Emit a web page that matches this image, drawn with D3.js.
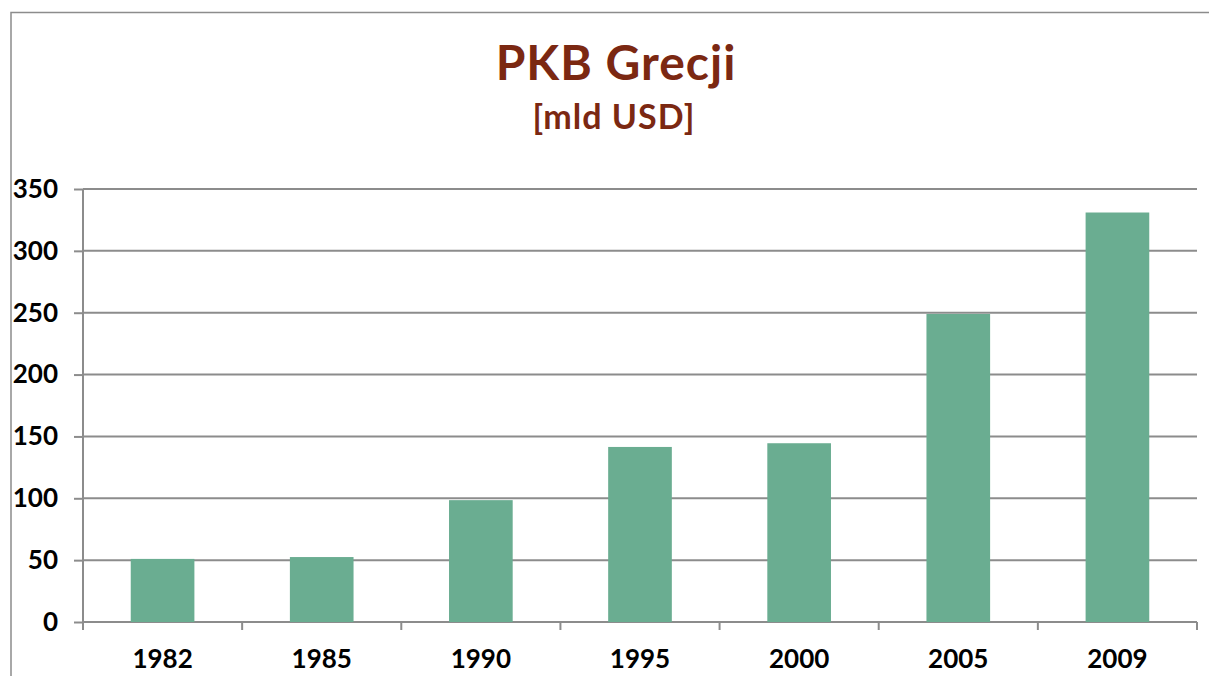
<!DOCTYPE html>
<html>
<head>
<meta charset="utf-8">
<script src="https://cdn.jsdelivr.net/npm/d3@7"></script>
<style>
  body { margin: 0; background: #fff; }
  text { font-family: Lato, "DejaVu Sans", sans-serif; font-weight: bold; }
</style>
</head>
<body>
<div id="chart"></div>
<script>
// chart data
const years = ["1982", "1985", "1990", "1995", "2000", "2005", "2009"];
const gdp = [51, 52.5, 98.5, 141.5, 144.5, 249, 331];
const yTicks = [0, 50, 100, 150, 200, 250, 300, 350];

const W = 1209, H = 676;
const margin = {top: 189, right: 12, bottom: 54, left: 83};
const width = W - margin.left - margin.right;
const height = H - margin.top - margin.bottom;

const svg = d3.select('#chart').append('svg')
    .attr('width', W)
    .attr('height', H);

// outer frame
svg.append('rect')
    .attr('x', 11).attr('y', 12.5)
    .attr('width', W).attr('height', H)
    .attr('fill', 'none')
    .attr('stroke', '#8c8c8c')
    .attr('stroke-width', 1.5);

// titles
svg.append('text')
    .attr('x', 616).attr('y', 80)
    .attr('text-anchor', 'middle')
    .attr('fill', '#7b2812')
    .style('font-size', '48px')
    .style('letter-spacing', '1px')
    .text('PKB Grecji');
svg.append('text')
    .attr('x', 614).attr('y', 129)
    .attr('text-anchor', 'middle')
    .attr('fill', '#7b2812')
    .style('font-size', '34px')
    .style('letter-spacing', '1px')
    .text('[mld USD]');

const g = svg.append('g')
    .attr('transform', 'translate(' + margin.left + ',' + margin.top + ')');

const x = d3.scaleBand().domain(years).range([0, width]).paddingInner(0.6).paddingOuter(0.3);
const xb = d3.scaleBand().domain(years).range([0, width]);
const y = d3.scaleLinear().domain([0, 350]).range([height, 0]);

// y axis labels + tick marks
const yAxis = g.append('g')
    .call(d3.axisLeft(y).tickValues(yTicks).tickSize(9));
yAxis.select('.domain').remove();
yAxis.selectAll('.tick line').attr('stroke', '#8c8c8c').attr('stroke-width', 2);
yAxis.selectAll('.tick text')
    .attr('fill', '#000')
    .style('font-size', '26px')
    .attr('x', -25);

// gridlines
g.append('g').selectAll('line')
    .data(yTicks)
    .enter().append('line')
    .attr('x1', 0).attr('x2', width)
    .attr('y1', d => y(d)).attr('y2', d => y(d))
    .attr('stroke', '#8c8c8c')
    .attr('stroke-width', 2);

// vertical axis line
g.append('line')
    .attr('x1', 0).attr('x2', 0)
    .attr('y1', 0).attr('y2', height + 8)
    .attr('stroke', '#8c8c8c')
    .attr('stroke-width', 2);

// bars
g.selectAll('.bar')
    .data(years)
    .enter().append('rect')
    .attr('class', 'bar')
    .attr('x', d => x(d))
    .attr('width', x.bandwidth())
    .attr('y', (d, i) => y(gdp[i]))
    .attr('height', (d, i) => height - y(gdp[i]))
    .attr('fill', '#6aad91');

// x axis: ticks at band boundaries
const xg = g.append('g').attr('transform', 'translate(0,' + height + ')');
xg.selectAll('line.tk')
    .data(years.slice(1).concat(['end']))
    .enter().append('line')
    .attr('class', 'tk')
    .attr('x1', (d, i) => xb.step() * (i + 1))
    .attr('x2', (d, i) => xb.step() * (i + 1))
    .attr('y1', 0).attr('y2', 8)
    .attr('stroke', '#8c8c8c')
    .attr('stroke-width', 2);
xg.selectAll('text')
    .data(years)
    .enter().append('text')
    .attr('x', d => xb(d) + xb.bandwidth() / 2)
    .attr('y', 46)
    .attr('text-anchor', 'middle')
    .attr('fill', '#000')
    .style('font-size', '26px')
    .text(d => d);
</script>
</body>
</html>
